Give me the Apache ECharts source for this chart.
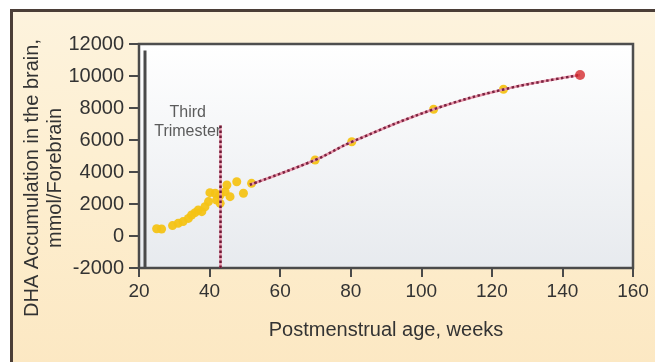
<!DOCTYPE html>
<html>
<head>
<meta charset="utf-8">
<script src="https://cdn.jsdelivr.net/npm/echarts@6/dist/echarts.min.js"></script>
<style>
  html, body { margin: 0; padding: 0; background: #ffffff; }
  #frame {
    position: absolute; left: 10px; top: 9px; width: 645px; height: 353px;
    border-top: 3px solid #4b3e37; border-left: 3px solid #4b3e37;
    background: linear-gradient(180deg, #fdf3dd 0%, #fdeecf 50%, #fce8c3 100%);
  }
  #chart { position: absolute; left: 0; top: 0; width: 655px; height: 362px; }
</style>
</head>
<body>
<div id="frame"></div>
<div id="chart"></div>
<script>
// Early (fetal/preterm) measurements: weeks, DHA accumulation
const earlyWeeks = [25.0, 26.4, 29.5, 31.1, 32.5, 34.0, 34.9, 35.9, 36.8, 37.8, 38.7, 39.7, 40.1, 41.6, 42.0, 43.0, 43.0, 44.4, 44.9, 45.8, 47.7, 49.6, 51.9];
const earlyDHA   = [450, 440, 650, 790, 900, 1100, 1310, 1460, 1625, 1520, 1830, 2150, 2710, 2670, 2250, 2560, 2040, 2770, 3190, 2460, 3390, 2670, 3290];
// Later measurements on the fitted curve
const laterWeeks = [69.9, 80.3, 103.5, 123.3];
const laterDHA   = [4750, 5890, 7920, 9170];
// End point (red)
const endWeeks = [145.0];
const endDHA   = [10060];
// Fitted curve (dotted)
const curveWeeks = [51.4, 69.9, 80.3, 103.5, 123.3, 145.0];
const curveDHA   = [3200, 4750, 5880, 7920, 9160, 10060];
// Third-trimester boundary line
const trimesterWeeks = [43.1, 43.1];
const trimesterDHA   = [6900, -2000];
// Dark vertical reference bar near the y axis
const barWeeks = [21.7, 21.7];
const barDHA   = [11600, -2000];
// Axis ticks
const xTicks = { min: 20, max: 160, interval: 20 };
const yTicks = { min: -2000, max: 12000, interval: 2000 };

const zip = (a, b) => a.map((v, i) => [v, b[i]]);

const chart = echarts.init(document.getElementById('chart'), null, { renderer: 'canvas' });
const font = 'Liberation Sans, Arial, sans-serif';
const txt = '#333333';

chart.setOption({
  backgroundColor: 'transparent',
  animation: false,
  grid: {
    left: 139, right: 22, top: 44, bottom: 94,
    show: true,
    borderColor: '#4e4e4e', borderWidth: 2.5,
    backgroundColor: {
      type: 'linear', x: 0, y: 0, x2: 0, y2: 1,
      colorStops: [{ offset: 0, color: '#ffffff' }, { offset: 1, color: '#e7eaee' }]
    }
  },
  xAxis: {
    type: 'value', min: xTicks.min, max: xTicks.max, interval: xTicks.interval,
    name: 'Postmenstrual age, weeks', nameLocation: 'middle', nameGap: 52,
    nameTextStyle: { fontSize: 20, color: txt, fontFamily: font },
    axisLine: { show: true, onZero: false, lineStyle: { color: '#4a4a4a', width: 2 } },
    axisTick: { show: true, length: 9, lineStyle: { color: '#4a4a4a', width: 2 } },
    axisLabel: { fontSize: 19, color: txt, fontFamily: font, margin: 14 },
    splitLine: { show: false }
  },
  yAxis: {
    type: 'value', min: yTicks.min, max: yTicks.max, interval: yTicks.interval,
    axisLine: { show: true, onZero: false, lineStyle: { color: '#4a4a4a', width: 2 } },
    axisTick: { show: true, length: 10, lineStyle: { color: '#4a4a4a', width: 2 } },
    axisLabel: { fontSize: 20, color: txt, fontFamily: font, margin: 15, formatter: v => String(v) },
    splitLine: { show: false }
  },
  graphic: [{
    type: 'text', x: 44, y: 178, rotation: Math.PI / 2,
    style: {
      text: 'DHA Accumulation in the brain,\nmmol/Forebrain',
      font: '20px ' + font, fill: txt,
      textAlign: 'center', textVerticalAlign: 'middle', lineHeight: 23
    }
  }],
  series: [
    {
      type: 'line', data: zip(barWeeks, barDHA), showSymbol: false, silent: true,
      lineStyle: { color: '#4a4a4a', width: 3 }, z: 3
    },
    {
      type: 'scatter', data: zip(earlyWeeks, earlyDHA), symbol: 'circle', symbolSize: 9,
      itemStyle: { color: '#f4c316', opacity: 0.95 }, z: 2
    },
    {
      type: 'scatter', data: zip(laterWeeks, laterDHA), symbol: 'circle', symbolSize: 9,
      itemStyle: { color: '#f4c316', opacity: 0.95 }, z: 2
    },
    {
      type: 'line', data: zip(curveWeeks, curveDHA), smooth: 0.4, showSymbol: false, silent: true,
      lineStyle: { color: '#e995aa', width: 2.5 }, z: 3
    },
    {
      type: 'line', data: zip(curveWeeks, curveDHA), smooth: 0.4, showSymbol: false, silent: true,
      lineStyle: { color: '#7a2340', width: 2.5, type: [2.5, 2.5] }, z: 4
    },
    {
      type: 'line', data: zip(trimesterWeeks, trimesterDHA), showSymbol: false, silent: true,
      lineStyle: { color: '#e995aa', width: 2.5 }, z: 3
    },
    {
      type: 'line', data: zip(trimesterWeeks, trimesterDHA), showSymbol: false, silent: true,
      lineStyle: { color: '#6e1a35', width: 2.5, type: [2.5, 2.5] }, z: 4
    },
    {
      type: 'scatter', data: zip(endWeeks, endDHA), symbol: 'circle', symbolSize: 10,
      itemStyle: { color: '#d42a2e' }, z: 5
    },
    {
      type: 'scatter', data: [[33.8, 7150]], symbolSize: 0, silent: true,
      label: {
        show: true, position: 'inside', formatter: 'Third\nTrimester',
        fontSize: 16, color: txt, fontFamily: font, lineHeight: 19
      }, z: 6
    }
  ]
});
</script>
</body>
</html>
